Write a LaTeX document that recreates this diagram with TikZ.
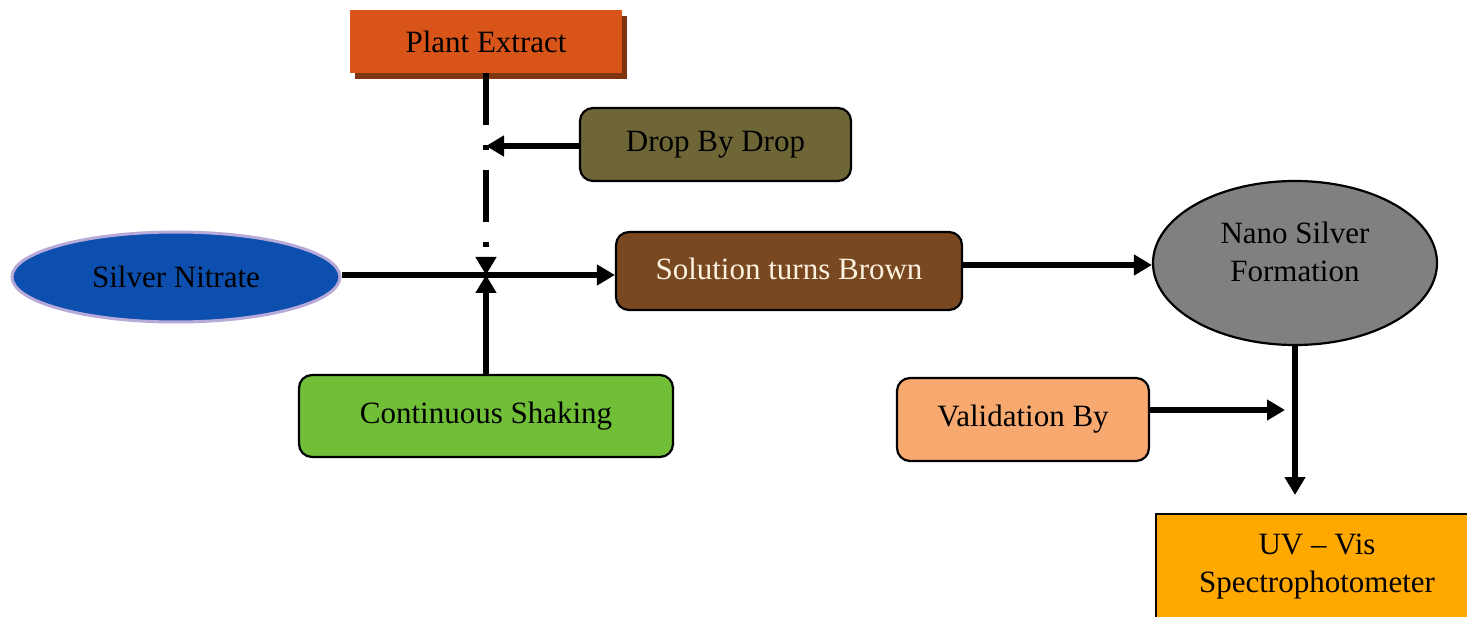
\documentclass[tikz,border=0pt]{standalone}
\usepackage{fontspec}
\setmainfont{Liberation Serif}
\usetikzlibrary{arrows.meta,shapes.geometric,shadows}

\definecolor{plantfill}{HTML}{D95418}
\definecolor{plantshade}{HTML}{7E3612}
\definecolor{dropfill}{HTML}{6E6637}
\definecolor{silverfill}{HTML}{0D4FAF}
\definecolor{silveredge}{HTML}{B7A9D8}
\definecolor{brownfill}{HTML}{7A4820}
\definecolor{browntext}{HTML}{FBF1E0}
\definecolor{nanofill}{HTML}{808080}
\definecolor{shakefill}{HTML}{70BF37}
\definecolor{validfill}{HTML}{F7A970}
\definecolor{uvfill}{HTML}{FFA800}

\tikzset{
  every node/.style={font=\fontsize{31}{38}\selectfont, inner sep=0pt, align=center},
  roundbox/.style={draw=black, line width=2.2pt, rounded corners=13pt},
  oval/.style={ellipse, line width=2.2pt},
  link/.style={line width=5.5pt, -{Triangle[length=18pt,width=20pt]}},
  feed/.style={link, dash pattern=on 52pt off 20pt on 5pt off 20pt},
}

\begin{document}
\begin{tikzpicture}[x=1pt,y=-1pt]
  \useasboundingbox (0,0) rectangle (1467,617);

  % source boxes
  \node (plant) [fill=plantfill, minimum width=272pt, minimum height=63pt,
    drop shadow={shadow xshift=5pt, shadow yshift=-6pt, fill=plantshade, opacity=1}]
    at (486,41.5) {Plant Extract};
  \node (drop) [roundbox, fill=dropfill, minimum width=271pt, minimum height=73pt]
    at (715.5,144.5) {Drop By Drop};
  \node (silver) [oval, draw=silveredge, line width=3pt, fill=silverfill,
    minimum width=328pt, minimum height=90pt] at (176,277) {Silver Nitrate};
  \node (shake) [roundbox, fill=shakefill, minimum width=374pt, minimum height=82pt]
    at (486,416) {\raisebox{5pt}{Continuous Shaking}};

  % reaction and product
  \node (sol) [roundbox, fill=brownfill, text=browntext, minimum width=346pt, minimum height=78pt]
    at (789,271) {\raisebox{4pt}{Solution turns Brown}};
  \node (nano) [oval, draw=black, fill=nanofill, minimum width=284pt, minimum height=164pt]
    at (1295,263) {};
  \node (nanotext) at (1295,252) {Nano Silver\\Formation};

  % validation
  \node (valid) [roundbox, fill=validfill, minimum width=252pt, minimum height=83pt]
    at (1023,419.5) {\raisebox{7pt}{Validation By}};
  \node (uv) [draw=black, line width=2.2pt, fill=uvfill, minimum width=330pt, minimum height=130pt,
    anchor=north west] at (1155,513) {};
  \node (uvtext) at (1317,567) {UV -- Vis\\Spectrophotometer};

  % meeting points of the connectors
  \coordinate (mix) at (486,275);
  \coordinate (dropin) at (486,146);
  \coordinate (valin) at (1285,410);

  % connectors
  \draw[feed] (plant.south) -- (mix);
  \draw[link] (drop.west |- dropin) -- (dropin);
  \draw[link] (shake.north) -- (mix);
  \draw[link] (silver.east |- mix) -- (sol.west |- mix);
  \draw[link] (sol.east |- 0,265) -- (nano.west |- 0,265);
  \draw[link, shorten >=18pt] (nano.south) -- (nano.south |- uv.north);
  \draw[link] (valid.east |- valin) -- (valin);
\end{tikzpicture}
\end{document}
